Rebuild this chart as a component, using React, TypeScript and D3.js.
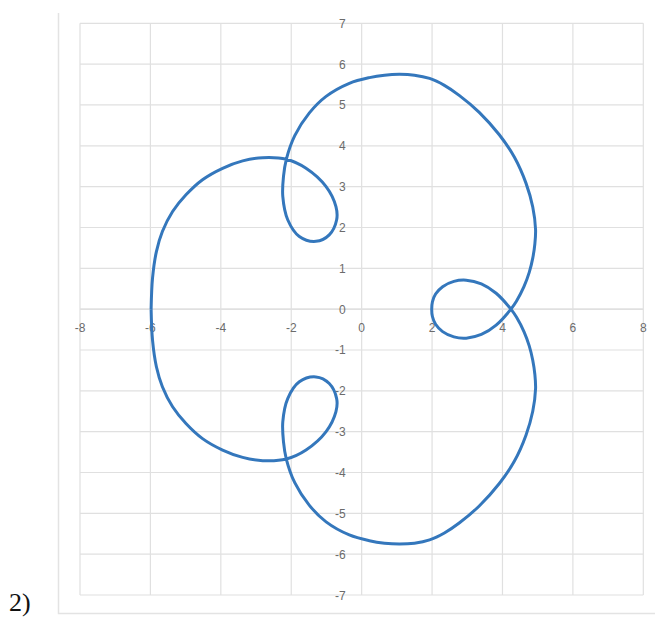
import { useEffect, useRef } from 'react';
import * as d3 from 'd3';

// points, in drawing order (starts at the leftmost point, goes over the top)
const curveX = [
  -5.98, -5.94, -5.83, -5.66, -5.37, -4.99, -4.52, -3.95, -3.38, -2.81, -2.14, -1.58, -1.01, -0.73,
  -0.71, -0.92, -1.3, -1.77, -2.1, -2.24, -2.22, -2.14, -1.9, -1.49, -1.01, -0.35, 0.22, 0.65,
  1.07, 1.5, 1.93, 2.35, 2.78, 3.34, 3.91, 4.34, 4.67, 4.86, 4.94, 4.92, 4.86, 4.76, 4.61, 4.4, 4.24,
  3.82, 3.4, 2.97, 2.62, 2.3, 2.1, 2.01, 1.99, 2.01, 2.1, 2.3, 2.62, 2.97, 3.4, 3.82,
  4.24, 4.4, 4.61, 4.76, 4.86, 4.92, 4.94, 4.86, 4.67, 4.34, 3.91, 3.34, 2.78, 2.35, 1.93, 1.5,
  1.07, 0.65, 0.22, -0.35, -1.01, -1.49, -1.9, -2.14, -2.22, -2.24, -2.1, -1.77, -1.3, -0.92, -0.71,
  -0.73, -1.01, -1.58, -2.14, -2.81, -3.38, -3.95, -4.52, -4.99, -5.37, -5.66, -5.83, -5.94, -5.98,
];
const curveY = [
  0, 0.76, 1.41, 1.9, 2.39, 2.8, 3.17, 3.45, 3.63, 3.71, 3.67, 3.45, 3.0, 2.51,
  2.19, 1.82, 1.66, 1.78, 2.19, 2.76, 3.25, 3.67, 4.25, 4.8, 5.21, 5.53, 5.67, 5.73,
  5.75, 5.73, 5.65, 5.48, 5.23, 4.82, 4.27, 3.72, 3.08, 2.5, 1.95, 1.6, 1.25, 0.9, 0.55, 0.2, 0,
  -0.39, -0.62, -0.71, -0.68, -0.55, -0.37, -0.18, 0, 0.18, 0.37, 0.55, 0.68, 0.71, 0.62, 0.39,
  0, -0.2, -0.55, -0.9, -1.25, -1.6, -1.95, -2.5, -3.08, -3.72, -4.27, -4.82, -5.23, -5.48, -5.65, -5.73,
  -5.75, -5.73, -5.67, -5.53, -5.21, -4.8, -4.25, -3.67, -3.25, -2.76, -2.19, -1.78, -1.66, -1.82, -2.19,
  -2.51, -3.0, -3.45, -3.67, -3.71, -3.63, -3.45, -3.17, -2.8, -2.39, -1.9, -1.41, -0.76, 0,
];

const xTicks = [-8, -6, -4, -2, 0, 2, 4, 6, 8];
const yTicks = [-7, -6, -5, -4, -3, -2, -1, 0, 1, 2, 3, 4, 5, 6, 7];
const panelLabel = '2)';

const W = 655;
const H = 618;

const App = () => {
  const ref = useRef<SVGSVGElement>(null);

  useEffect(() => {
    const svg = d3.select(ref.current);
    svg.selectAll('*').remove();

    const xScale = d3.scaleLinear().domain([-8, 8]).range([80, 643.3]);
    const yScale = d3.scaleLinear().domain([-7, 7]).range([595, 23.3]);

    // outer frame (only left and bottom edges are in view)
    svg.append('path')
      .attr('d', `M58.5,13V613.5H${W}`)
      .attr('fill', 'none')
      .attr('stroke', '#e3e3e3')
      .attr('stroke-width', 1.5);

    const grid = svg.append('g');
    grid.selectAll('line.h')
      .data(yTicks)
      .join('line')
      .attr('class', 'h')
      .attr('x1', xScale(-8))
      .attr('x2', xScale(8))
      .attr('y1', d => yScale(d))
      .attr('y2', d => yScale(d))
      .attr('stroke', '#e0e0e0')
      .attr('stroke-width', d => (d === 0 ? 1.6 : 1.2));

    grid.selectAll('line.v')
      .data(xTicks)
      .join('line')
      .attr('class', 'v')
      .attr('y1', yScale(7))
      .attr('y2', yScale(-7))
      .attr('x1', d => xScale(d))
      .attr('x2', d => xScale(d))
      .attr('stroke', '#e0e0e0')
      .attr('stroke-width', 1.2);

    // tick labels sit next to the axes through the origin
    svg.append('g')
      .selectAll('text')
      .data(xTicks)
      .join('text')
      .attr('x', d => xScale(d))
      .attr('y', yScale(0) + 23)
      .attr('text-anchor', 'middle')
      .attr('font-family', 'Liberation Sans, Arial, sans-serif')
      .attr('font-size', 12)
      .attr('fill', '#6b6b6b')
      .text(d => d);

    svg.append('g')
      .selectAll('text')
      .data(yTicks)
      .join('text')
      .attr('x', xScale(0) - 16)
      .attr('y', d => yScale(d) + 4.5)
      .attr('text-anchor', 'end')
      .attr('font-family', 'Liberation Sans, Arial, sans-serif')
      .attr('font-size', 12)
      .attr('fill', '#6b6b6b')
      .text(d => d);

    const pts = curveX.map((x, i) => [x, curveY[i]] as [number, number]);
    const line = d3.line<[number, number]>()
      .x(d => xScale(d[0]))
      .y(d => yScale(d[1]))
      .curve(d3.curveCatmullRom.alpha(0.5));

    svg.append('path')
      .attr('d', line(pts))
      .attr('fill', 'none')
      .attr('stroke', '#3477bc')
      .attr('stroke-width', 3)
      .attr('stroke-linejoin', 'round');

    svg.append('text')
      .attr('x', 9)
      .attr('y', 611)
      .attr('font-family', 'Liberation Serif, Times New Roman, serif')
      .attr('font-size', 26)
      .attr('fill', '#111')
      .text(panelLabel);
  }, []);

  return (
    <svg
      ref={ref}
      width={W}
      height={H}
      style={{ position: 'absolute', left: 0, top: 0, background: '#fff' }}
    />
  );
};

export default App;
